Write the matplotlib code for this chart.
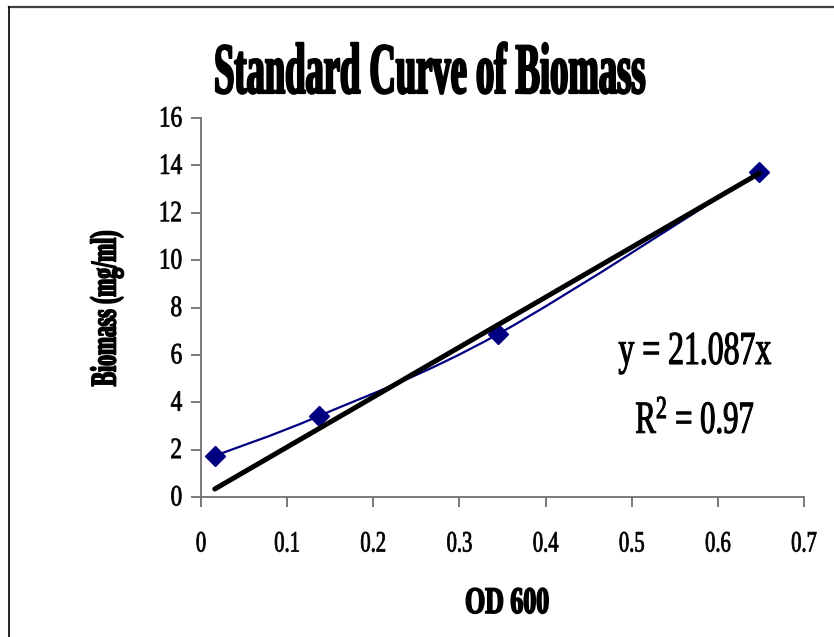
import numpy as np
import matplotlib
matplotlib.use("Agg")
import matplotlib.pyplot as plt
from matplotlib.path import Path
from matplotlib.patches import PathPatch
from matplotlib.lines import Line2D
from matplotlib.patheffects import AbstractPathEffect
from matplotlib.transforms import Affine2D

# Calibration data: optical density at 600 nm vs. biomass concentration
od600 = [0.016, 0.137, 0.345, 0.648]
biomass = [1.74, 3.42, 6.88, 13.73]

# Linear fit through the origin
slope = 21.087
r_squared = 0.97

x_ticks = [0, 0.1, 0.2, 0.3, 0.4, 0.5, 0.6, 0.7]
x_tick_labels = ["0", "0.1", "0.2", "0.3", "0.4", "0.5", "0.6", "0.7"]
y_ticks = [0, 2, 4, 6, 8, 10, 12, 14, 16]
y_tick_labels = ["0", "2", "4", "6", "8", "10", "12", "14", "16"]

plt.rcParams["font.family"] = ["Liberation Serif", "DejaVu Serif"]
plt.rcParams["mathtext.fontset"] = "custom"
plt.rcParams["mathtext.rm"] = "Liberation Serif"
plt.rcParams["mathtext.it"] = "Liberation Serif:italic"
plt.rcParams["mathtext.bf"] = "Liberation Serif:bold"


class Squeeze(AbstractPathEffect):
    """Rescale glyph outlines (condensed / stretched lettering),
    optionally thickening the strokes."""

    def __init__(self, sx, sy=1.0, anchor=0.5, stroke=0.0):
        super().__init__()
        self.sx = sx
        self.sy = sy
        self.anchor = anchor
        self.stroke = stroke

    def draw_path(self, renderer, gc, tpath, affine, rgbFace=None):
        ext = tpath.get_extents()
        pivot = ext.x0 + self.anchor * ext.width
        tr = (Affine2D().translate(-pivot, 0).scale(self.sx, self.sy)
              .translate(pivot, 0) + affine)
        if self.stroke > 0:
            gc0 = renderer.new_gc()
            gc0.copy_properties(gc)
            gc0.set_linewidth(self.stroke)
            gc0.set_joinstyle("round")
            renderer.draw_path(gc0, tpath, tr, rgbFace)
            gc0.restore()
        else:
            renderer.draw_path(gc, tpath, tr, rgbFace)


W, H = 834, 637
fig = plt.figure(figsize=(W / 100, H / 100), dpi=100)
fig.patch.set_facecolor("white")


def fx(px):
    return px / W


def fy(py):
    return 1 - py / H


ax = fig.add_axes([fx(201), fy(497), fx(804) - fx(201), fy(118) - fy(497)])


def smooth_path(xs, ys):
    """Cubic Bezier curve through the points (cardinal spline)."""
    pts = np.column_stack([xs, ys]).astype(float)
    n = len(pts)
    verts = [pts[0]]
    codes = [Path.MOVETO]
    for i in range(n - 1):
        p0 = pts[max(i - 1, 0)]
        p1 = pts[i]
        p2 = pts[i + 1]
        p3 = pts[min(i + 2, n - 1)]
        c1 = p1 + (p2 - p0) / 6.0
        c2 = p2 - (p3 - p1) / 6.0
        verts += [c1, c2, p2]
        codes += [Path.CURVE4] * 3
    return Path(verts, codes)


navy = "#000080"
ax.add_patch(PathPatch(smooth_path(od600, biomass), fill=False,
                       edgecolor=navy, lw=1.6, zorder=2))
ax.plot(od600, biomass, linestyle="none", marker="D", ms=10,
        color=navy, zorder=3)

trend_x = np.array([min(od600), max(od600)])
ax.plot(trend_x, slope * trend_x, color="black", lw=3.6,
        solid_capstyle="round", zorder=4)

ax.set_xlim(0, 0.7)
ax.set_ylim(0, 16)
ax.set_xticks(x_ticks)
ax.set_xticklabels(x_tick_labels)
ax.set_yticks(y_ticks)
ax.set_yticklabels(y_tick_labels)

for side in ("top", "right"):
    ax.spines[side].set_visible(False)
for side in ("left", "bottom"):
    ax.spines[side].set_color("#707070")
    ax.spines[side].set_linewidth(1.3)

ax.tick_params(direction="out", length=7, width=1.3, color="#707070",
               labelsize=19, labelcolor="black")
ax.tick_params(axis="x", pad=20)
ax.tick_params(axis="y", pad=6.5)

# Tall, narrow numerals on both axes
for lbl in ax.get_xticklabels():
    lbl.set_path_effects([Squeeze(0.78, sy=1.12, anchor=0.5, stroke=0.55)])
for lbl in ax.get_yticklabels():
    lbl.set_path_effects([Squeeze(0.88, sy=1.12, anchor=1.0, stroke=0.55)])

renderer = fig.canvas.get_renderer()


def condensed_text(x, y, s, target, vertical=False, sy=1.0, stroke=0.0, **kw):
    t = fig.text(x, y, s, **kw)
    bb = t.get_window_extent(renderer)
    length = bb.height if vertical else bb.width
    t.set_path_effects([Squeeze(target / length, sy=sy, stroke=stroke)])
    return t


condensed_text(fx(430), fy(93), "Standard Curve of Biomass", 432,
               sy=52 / 32, stroke=1.6,
               ha="center", va="baseline", fontsize=32, fontweight="bold")
condensed_text(fx(107), fy(308), "Biomass (mg/ml)", 156, vertical=True,
               stroke=1.2, rotation=90, ha="center", va="center",
               fontsize=26, fontweight="bold")
condensed_text(fx(507), fy(613), "OD 600", 84, stroke=1.2,
               ha="center", va="baseline", fontsize=27, fontweight="bold")
condensed_text(fx(695), fy(364), f"y = {slope:g}x", 153, stroke=0.8,
               ha="center", va="baseline", fontsize=34)
condensed_text(fx(695), fy(433), r"R$^{2}$ = " + f"{r_squared:g}", 119,
               stroke=0.8, ha="center", va="baseline", fontsize=33)

# Chart area frame (top and left edges)
fig.add_artist(Line2D([fx(9), 1], [fy(7), fy(7)], transform=fig.transFigure,
                      color="#404040", lw=1.6))
fig.add_artist(Line2D([fx(9), fx(9)], [fy(7), 0], transform=fig.transFigure,
                      color="black", lw=1.2))

fig.savefig("out.png", dpi=100)
